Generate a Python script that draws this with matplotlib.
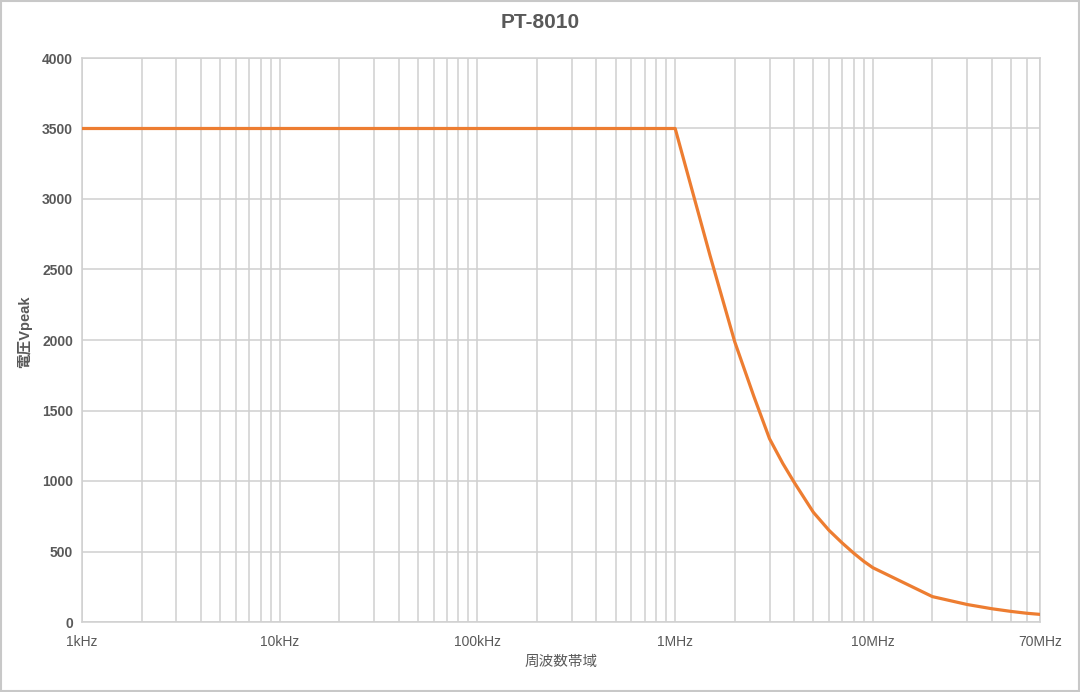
#!/usr/bin/env python3
# PT-8010: max voltage vs frequency (log x axis)

import matplotlib
matplotlib.use('Agg')
import matplotlib.pyplot as plt
from matplotlib.ticker import FixedLocator, FixedFormatter, NullFormatter
from matplotlib.patches import Rectangle

# frequency (Hz) and voltage (Vpeak)
freq_hz = [1e3, 1e6, 1.5e6, 2e6, 2.5e6, 3e6, 3.5e6, 4e6, 4.5e6, 5e6, 6e6, 7e6,
           8e6, 9e6, 10e6, 20e6, 30e6, 40e6, 50e6, 60e6, 70e6]
volt_peak = [3500, 3500, 2600, 1988, 1600, 1300, 1125, 990, 878, 778, 650, 560,
             488, 430, 385, 180, 124, 94, 75, 62, 54]

xtick_pos = [1e3, 1e4, 1e5, 1e6, 1e7, 7e7]
xtick_lbl = ["1kHz", "10kHz", "100kHz", "1MHz", "10MHz", "70MHz"]
ytick_pos = [0, 500, 1000, 1500, 2000, 2500, 3000, 3500, 4000]

title = "PT-8010"
xlabel = "周波数帯域"
ylabel = "電圧Vpeak"

GRID = '#d0d0d0'
TXT = '#595959'
ORANGE = '#ED7D31'
FAM = ['Liberation Sans', 'Noto Sans CJK JP', 'DejaVu Sans']
plt.rcParams['font.family'] = FAM

fig = plt.figure(figsize=(10.8, 6.92), dpi=100)
ax = fig.add_axes([82/1080, 1-622/692, (1040-82)/1080, (622-58)/692])

ax.plot(freq_hz, volt_peak, color=ORANGE, lw=2.3, solid_joinstyle='round', zorder=3)

ax.set_xscale('log')
ax.set_xlim(1e3, 7e7)
ax.set_ylim(0, 4000)

minor = []
for dec in [1e3, 1e4, 1e5, 1e6, 1e7]:
    for k in range(2, 10):
        if dec*k < 7e7:
            minor.append(dec*k)
ax.xaxis.set_major_locator(FixedLocator(xtick_pos))
ax.xaxis.set_major_formatter(FixedFormatter(xtick_lbl))
ax.xaxis.set_minor_locator(FixedLocator(minor))
ax.xaxis.set_minor_formatter(NullFormatter())
ax.set_yticks(ytick_pos)

ax.grid(True, which='both', axis='x', color=GRID, lw=1.1)
ax.grid(True, which='major', axis='y', color=GRID, lw=1.1)
ax.set_axisbelow(True)
for s in ax.spines.values():
    s.set_color(GRID)
    s.set_linewidth(1.1)
ax.tick_params(which='both', length=0)
ax.tick_params(axis='x', pad=9, labelsize=10, labelcolor=TXT)
ax.tick_params(axis='y', pad=6.5, labelsize=10, labelcolor=TXT)
for t in ax.get_yticklabels():
    t.set_fontweight('bold')

fig.text(540/1080, 1-22/692, title, ha='center', va='center',
         fontsize=15, fontweight='bold', color=TXT)
fig.text(561/1080, 1-662/692, xlabel, ha='center', va='center',
         fontsize=10.5, color=TXT, family=['Noto Sans CJK JP', 'DejaVu Sans'])
fig.text(25/1080, 1-332/692, ylabel, ha='center', va='center', rotation=90,
         fontsize=10.5, fontweight='bold', color=TXT)

fig.add_artist(Rectangle((0.001, 0.001), 0.998, 0.997, transform=fig.transFigure,
                         fill=False, edgecolor='#c8c8c8', lw=1.5))

fig.savefig('out.png', dpi=100)
